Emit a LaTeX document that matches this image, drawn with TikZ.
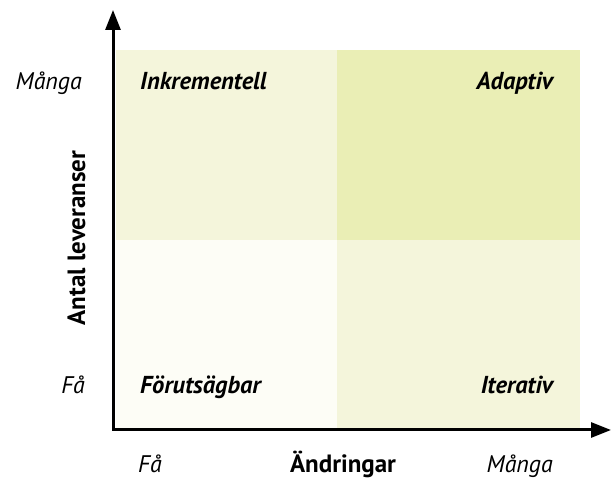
\documentclass[tikz,border=0pt]{standalone}
\usepackage{fontspec}
\setmainfont{PT Sans}
\usetikzlibrary{arrows.meta}
\definecolor{paleq}{HTML}{F4F5DB}
\definecolor{strongq}{HTML}{EAEEB5}
\definecolor{faintq}{HTML}{FDFDF6}

\begin{document}
\begin{tikzpicture}[
    x=1pt, y=1pt,
    axis/.style={line width=3pt, {Triangle[length=20pt,width=15pt]}-{Triangle[length=20pt,width=15pt]}},
    quad/.style={inner sep=0pt, font=\fontsize{24.5}{28}\selectfont\bfseries\itshape},
    tick/.style={inner sep=0pt, font=\fontsize{24}{28}\selectfont\itshape},
    title/.style={inner sep=0pt, font=\fontsize{25}{28}\selectfont\bfseries},
]
\useasboundingbox (0,0) rectangle (611,479);
\fill[faintq]  (116,51)  rectangle (337,239);
\fill[paleq]   (337,51)  rectangle (580,239);
\fill[paleq]   (116,239) rectangle (337,429);
\fill[strongq] (337,239) rectangle (580,429);
\coordinate (origo) at (113,49);
\coordinate (ytop) at (113,469);
\coordinate (xend) at (611,49);
\draw[axis] (ytop) -- (origo) -- (xend);
\node[quad, anchor=base west] (inkr) at (140,389) {Inkrementell};
\node[quad, anchor=base east] (adap) at (553,389) {Adaptiv};
\node[quad, anchor=base west] (forut) at (140,85) {Förutsägbar};
\node[quad, anchor=base east] (iter) at (553,85) {Iterativ};
\node[tick, anchor=base east] (ymanga) at (82,389) {Många};
\node[tick, anchor=base east] (yfa) at (85,85) {Få};
\node[tick, anchor=base west] (xfa) at (138,6) {Få};
\node[title, anchor=base] (xtitle) at (343,6) {Ändringar};
\node[tick, anchor=base east] (xmanga) at (553,6) {Många};
\node[title, rotate=90, anchor=base] (ytitle) at (85,241) {Antal leveranser};
\end{tikzpicture}
\end{document}
